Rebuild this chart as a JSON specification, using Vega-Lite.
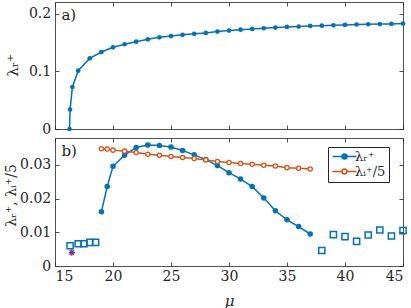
{
  "$schema": "https://vega.github.io/schema/vega-lite/v6.json",
  "background": "white",
  "padding": {"left": 3, "top": 1, "right": 7, "bottom": 0},
  "spacing": 1,
  "datasets": {
    "a": [
      {"mu": 16.25, "lam": 0.0}, {"mu": 16.3, "lam": 0.0336}, {"mu": 16.5, "lam": 0.0728},
      {"mu": 17, "lam": 0.101}, {"mu": 18, "lam": 0.1225}, {"mu": 19, "lam": 0.1334},
      {"mu": 20, "lam": 0.1415}, {"mu": 21, "lam": 0.1468}, {"mu": 22, "lam": 0.1513},
      {"mu": 23, "lam": 0.1554}, {"mu": 24, "lam": 0.1588}, {"mu": 25, "lam": 0.161},
      {"mu": 26, "lam": 0.1632}, {"mu": 27, "lam": 0.1648}, {"mu": 28, "lam": 0.1664},
      {"mu": 29, "lam": 0.1688}, {"mu": 30, "lam": 0.1705}, {"mu": 31, "lam": 0.172},
      {"mu": 32, "lam": 0.1733}, {"mu": 33, "lam": 0.1745}, {"mu": 34, "lam": 0.1757},
      {"mu": 35, "lam": 0.1768}, {"mu": 36, "lam": 0.1774}, {"mu": 37, "lam": 0.1785},
      {"mu": 38, "lam": 0.179}, {"mu": 39, "lam": 0.1797}, {"mu": 40, "lam": 0.1803},
      {"mu": 41, "lam": 0.181}, {"mu": 42, "lam": 0.1815}, {"mu": 43, "lam": 0.1818},
      {"mu": 44, "lam": 0.182}, {"mu": 45, "lam": 0.1826}
    ],
    "b": [
      {"mu": 19, "val": 0.0161, "series": "λᵣ⁺"}, {"mu": 19.5, "val": 0.0236, "series": "λᵣ⁺"},
      {"mu": 20, "val": 0.0296, "series": "λᵣ⁺"}, {"mu": 21, "val": 0.0329, "series": "λᵣ⁺"},
      {"mu": 22, "val": 0.0352, "series": "λᵣ⁺"}, {"mu": 23, "val": 0.0359, "series": "λᵣ⁺"},
      {"mu": 24, "val": 0.0358, "series": "λᵣ⁺"}, {"mu": 25, "val": 0.0353, "series": "λᵣ⁺"},
      {"mu": 26, "val": 0.0343, "series": "λᵣ⁺"}, {"mu": 27, "val": 0.033, "series": "λᵣ⁺"},
      {"mu": 28, "val": 0.0316, "series": "λᵣ⁺"}, {"mu": 29, "val": 0.0298, "series": "λᵣ⁺"},
      {"mu": 30, "val": 0.0277, "series": "λᵣ⁺"}, {"mu": 31, "val": 0.0258, "series": "λᵣ⁺"},
      {"mu": 32, "val": 0.0236, "series": "λᵣ⁺"}, {"mu": 33, "val": 0.0202, "series": "λᵣ⁺"},
      {"mu": 34, "val": 0.0164, "series": "λᵣ⁺"}, {"mu": 35, "val": 0.0137, "series": "λᵣ⁺"},
      {"mu": 36, "val": 0.0117, "series": "λᵣ⁺"}, {"mu": 37, "val": 0.0095, "series": "λᵣ⁺"},
      {"mu": 19, "val": 0.0348, "series": "λᵢ⁺/5"}, {"mu": 19.5, "val": 0.0347, "series": "λᵢ⁺/5"},
      {"mu": 20, "val": 0.0344, "series": "λᵢ⁺/5"}, {"mu": 21, "val": 0.0341, "series": "λᵢ⁺/5"},
      {"mu": 22, "val": 0.0337, "series": "λᵢ⁺/5"}, {"mu": 23, "val": 0.0332, "series": "λᵢ⁺/5"},
      {"mu": 24, "val": 0.0329, "series": "λᵢ⁺/5"}, {"mu": 25, "val": 0.0325, "series": "λᵢ⁺/5"},
      {"mu": 26, "val": 0.0322, "series": "λᵢ⁺/5"}, {"mu": 27, "val": 0.0319, "series": "λᵢ⁺/5"},
      {"mu": 28, "val": 0.0315, "series": "λᵢ⁺/5"}, {"mu": 29, "val": 0.031, "series": "λᵢ⁺/5"},
      {"mu": 30, "val": 0.0307, "series": "λᵢ⁺/5"}, {"mu": 31, "val": 0.0304, "series": "λᵢ⁺/5"},
      {"mu": 32, "val": 0.0302, "series": "λᵢ⁺/5"}, {"mu": 33, "val": 0.0299, "series": "λᵢ⁺/5"},
      {"mu": 34, "val": 0.0297, "series": "λᵢ⁺/5"}, {"mu": 35, "val": 0.0292, "series": "λᵢ⁺/5"},
      {"mu": 36, "val": 0.029, "series": "λᵢ⁺/5"}, {"mu": 37, "val": 0.0288, "series": "λᵢ⁺/5"}
    ],
    "sq": [
      {"mu": 16.3, "val": 0.006}, {"mu": 17.0, "val": 0.0066}, {"mu": 17.5, "val": 0.0066},
      {"mu": 18.0, "val": 0.007}, {"mu": 18.5, "val": 0.007},
      {"mu": 38, "val": 0.0046}, {"mu": 39, "val": 0.0093}, {"mu": 40, "val": 0.0087},
      {"mu": 41, "val": 0.0073}, {"mu": 42, "val": 0.0092}, {"mu": 43, "val": 0.0107},
      {"mu": 44, "val": 0.0089}, {"mu": 45, "val": 0.0105}
    ],
    "star": [
      {"mu": 16.45, "val": 0.004}
    ]
  },
  "vconcat": [
    {
      "width": 348,
      "height": 127,
      "layer": [
        {
          "data": {"name": "a"},
          "mark": {"type": "line", "color": "#0072BD", "strokeWidth": 1.5},
          "encoding": {
            "x": {"field": "mu", "type": "quantitative", "scale": {"domain": [15, 45], "nice": false},
              "axis": {"orient": "bottom", "labels": false, "title": null, "values": [15, 20, 25, 30, 35, 40, 45]}},
            "y": {"field": "lam", "type": "quantitative", "scale": {"domain": [0, 0.22], "nice": false},
              "axis": {"orient": "left", "values": [0, 0.1, 0.2], "format": "~g", "title": "λᵣ⁺",
                "titleX": -38, "titleY": 63, "titleAngle": -90, "titleAlign": "center", "titleBaseline": "alphabetic"}}
          }
        },
        {
          "data": {"name": "a"},
          "mark": {"type": "point", "filled": true, "color": "#0072BD", "size": 22, "opacity": 1},
          "encoding": {
            "x": {"field": "mu", "type": "quantitative", "scale": {"domain": [15, 45], "nice": false},
              "axis": {"orient": "top", "labels": false, "title": null, "values": [15, 20, 25, 30, 35, 40, 45]}},
            "y": {"field": "lam", "type": "quantitative", "scale": {"domain": [0, 0.22], "nice": false},
              "axis": {"orient": "right", "labels": false, "title": null, "values": [0, 0.1, 0.2]}}
          }
        },
        {
          "data": {"values": [{}]},
          "mark": {"type": "text", "text": "a)", "align": "left", "baseline": "middle", "fontSize": 15, "font": "DejaVu Serif", "color": "#262626"},
          "encoding": {
            "x": {"datum": 15.55, "type": "quantitative", "scale": {"domain": [15, 45], "nice": false}, "axis": null},
            "y": {"datum": 0.197, "type": "quantitative", "scale": {"domain": [0, 0.22], "nice": false}, "axis": null}
          }
        }
      ],
      "resolve": {"axis": {"x": "independent", "y": "independent"}}
    },
    {
      "width": 348,
      "height": 128,
      "layer": [
        {
          "data": {"name": "b"},
          "mark": {"type": "line", "strokeWidth": 1.5},
          "encoding": {
            "x": {"field": "mu", "type": "quantitative", "scale": {"domain": [15, 45], "nice": false},
              "axis": {"orient": "bottom", "values": [15, 20, 25, 30, 35, 40, 45], "title": "μ", "titleFontStyle": "italic", "titlePadding": 10}},
            "y": {"field": "val", "type": "quantitative", "scale": {"domain": [0, 0.038], "nice": false},
              "axis": {"orient": "left", "values": [0, 0.01, 0.02, 0.03], "format": "~g", "title": "λᵣ⁺, λᵢ⁺/5",
                "titleX": -40, "titleY": 57, "titleAngle": -90, "titleAlign": "center", "titleBaseline": "alphabetic", "titleFontSize": 14}},
            "color": {"field": "series", "type": "nominal",
              "scale": {"domain": ["λᵣ⁺", "λᵢ⁺/5"], "range": ["#0072BD", "#D95319"]},
              "legend": {"orient": "none", "legendX": 273, "legendY": 145, "title": null}}
          }
        },
        {
          "data": {"name": "b"},
          "mark": {"type": "point", "filled": false, "size": 18, "strokeWidth": 1.3, "opacity": 1},
          "encoding": {
            "x": {"field": "mu", "type": "quantitative", "scale": {"domain": [15, 45], "nice": false},
              "axis": {"orient": "top", "labels": false, "title": null, "values": [15, 20, 25, 30, 35, 40, 45]}},
            "y": {"field": "val", "type": "quantitative", "scale": {"domain": [0, 0.038], "nice": false},
              "axis": {"orient": "right", "labels": false, "title": null, "values": [0, 0.01, 0.02, 0.03]}},
            "color": {"field": "series", "type": "nominal",
              "scale": {"domain": ["λᵣ⁺", "λᵢ⁺/5"], "range": ["#0072BD", "#D95319"]},
              "legend": {"orient": "none", "legendX": 273, "legendY": 145, "title": null}},
            "fill": {"field": "series", "type": "nominal",
              "scale": {"domain": ["λᵣ⁺", "λᵢ⁺/5"], "range": ["#0072BD", "#ffffff"]},
              "legend": {"orient": "none", "legendX": 273, "legendY": 145, "title": null}}
          }
        },
        {
          "data": {"name": "sq"},
          "mark": {"type": "point", "shape": "square", "filled": false, "color": "#0072BD", "size": 38, "strokeWidth": 1.5, "opacity": 1},
          "encoding": {
            "x": {"field": "mu", "type": "quantitative", "scale": {"domain": [15, 45], "nice": false}, "axis": null},
            "y": {"field": "val", "type": "quantitative", "scale": {"domain": [0, 0.038], "nice": false}, "axis": null}
          }
        },
        {
          "data": {"name": "star"},
          "mark": {"type": "point", "shape": "M-1,0H1M0,-1V1M-0.7,-0.7L0.7,0.7M-0.7,0.7L0.7,-0.7", "filled": false, "color": "#7E2F8E", "size": 40, "strokeWidth": 1.3, "opacity": 1},
          "encoding": {
            "x": {"field": "mu", "type": "quantitative", "scale": {"domain": [15, 45], "nice": false}, "axis": null},
            "y": {"field": "val", "type": "quantitative", "scale": {"domain": [0, 0.038], "nice": false}, "axis": null}
          }
        },
        {
          "data": {"values": [{}]},
          "mark": {"type": "text", "text": "b)", "align": "left", "baseline": "middle", "fontSize": 15, "font": "DejaVu Serif", "color": "#262626"},
          "encoding": {
            "x": {"datum": 15.55, "type": "quantitative", "scale": {"domain": [15, 45], "nice": false}, "axis": null},
            "y": {"datum": 0.0342, "type": "quantitative", "scale": {"domain": [0, 0.038], "nice": false}, "axis": null}
          }
        }
      ],
      "resolve": {"axis": {"x": "independent", "y": "independent"}}
    }
  ],
  "config": {
    "font": "DejaVu Serif",
    "concat": {"spacing": 1},
    "view": {"stroke": null},
    "axis": {
      "grid": false, "minExtent": 0,
      "labelFont": "DejaVu Serif", "labelFontSize": 14, "labelColor": "#262626",
      "titleFont": "DejaVu Serif", "titleFontSize": 15, "titleColor": "#262626", "titleFontWeight": "normal",
      "domainColor": "#262626", "domainWidth": 0.8,
      "tickColor": "#262626", "tickWidth": 0.8, "tickSize": -4
    },
    "axisX": {"labelPadding": 7},
    "axisY": {"labelPadding": 8.3},
    "legend": {
      "symbolType": "M-1,0H0.9M1.9,0H3.8M1.9,0A0.5,0.5,0,1,1,0.9,0A0.5,0.5,0,1,1,1.9,0Z",
      "symbolSize": 100,
      "symbolStrokeWidth": 1.5,
      "labelFont": "DejaVu Serif", "labelFontSize": 13, "labelColor": "#262626",
      "labelOffset": 11,
      "padding": 3,
      "rowPadding": 1,
      "strokeColor": "#262626",
      "fillColor": "white"
    }
  }
}
